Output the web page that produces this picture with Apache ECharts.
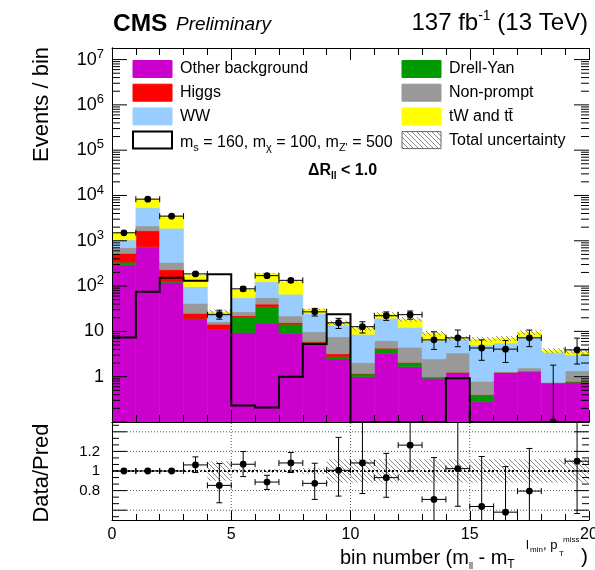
<!DOCTYPE html>
<html>
<head>
<meta charset="utf-8">
<script src="https://cdn.jsdelivr.net/npm/echarts@6/dist/echarts.min.js"></script>
<style>
html,body{margin:0;padding:0;background:#fff;}
#chart{width:595px;height:570px;}
</style>
</head>
<body>
<div id="chart"></div>
<script>
// ---------------- data ----------------
const binIndex   = [0,1,2,3,4,5,6,7,8,9,10,11,12,13,14,15,16,17,18,19];
const otherBkg   = [295, 719, 121, 18.8, 11.1, 9.4, 15.1, 9.1, 5.0, 2.46, 1.0, 3.3, 1.66, 0.92, 1.22, 0.28, 1.22, 1.29, 0.71, 0.74];
const drellYan   = [42, 20, 5, 0.5, 0.2, 11.1, 19.9, 5.3, 0.75, 0.34, 0.15, 0.9, 0.38, 0.05, 0.02, 0.11, 0.03, 0.02, 0.01, 0.03];
const higgs      = [190, 931, 104, 5.7, 3.1, 1.7, 5.0, 1.2, 0.25, 0.4, 0.02, 0.05, 0.02, 0.01, 0.01, 0.01, 0.01, 0.01, 0.01, 0.01];
const nonPrompt  = [180, 460, 105, 16.7, 2.0, 5.0, 15.5, 6.3, 3.8, 4.4, 0.87, 2.0, 2.42, 1.49, 2.08, 0.39, 0.02, 0.24, 0.02, 0.57];
const ww         = [333, 3250, 1555, 55.3, 9.5, 28.3, 69.5, 44.1, 15.2, 6.2, 6.56, 13.3, 7.84, 4.0, 3.5, 4.22, 4.25, 6.07, 2.68, 1.66];
const topTW      = [460, 2920, 1640, 79, 1.6, 26.5, 66, 58, 6, 1.7, 3.1, 4.3, 6.2, 2.65, 0.2, 1.7, 1.5, 1.8, 0.36, 0.56];
const signal     = [7.3, 75, 153, 131, 183, 0.23, 0.21, 1.0, 5.3, 23.8, 0, 0, 0, 0, 0.92, 0, 0, 0, 0, 0];
const dataObs    = [1500, 8300, 3500, 186, 23.4, 87, 170, 134, 27, 15.5, 12.7, 22.2, 23.4, 6.5, 7.2, 4.3, 4.06, 7.2, 0, 3.9];
const dataErrLo  = [39, 91, 59, 14, 4.8, 9.3, 13, 11.6, 5.2, 3.9, 3.5, 4.7, 4.8, 2.5, 2.6, 2.0, 2.0, 2.6, 0, 2.0];
const dataErrHi  = [39, 91, 59, 14, 5.9, 9.3, 13, 11.6, 5.2, 3.9, 3.6, 4.7, 4.8, 3.3, 3.5, 2.2, 2.2, 3.5, 1.8, 3.2];
const ratio      = [1.0, 1.0, 1.0, 1.062, 0.853, 1.069, 0.887, 1.082, 0.874, 1.007, 1.082, 0.932, 1.264, 0.71, 1.024, 0.638, 0.58, 0.795, 0, 1.10];
const ratioErrLo = [0.01, 0.01, 0.01, 0.078, 0.177, 0.126, 0.075, 0.098, 0.164, 0.263, 0.312, 0.2, 0.264, 0.4, 0.384, 0.4, 0.45, 0.45, 0, 0.534];
const ratioErrHi = [0.01, 0.01, 0.01, 0.082, 0.223, 0.13, 0.069, 0.107, 0.205, 0.336, 0.45, 0.248, 0.3, 0.427, 0.5, 0.51, 0.465, 0.435, 0.49, 0.5];
const relUnc     = [0.01, 0.01, 0.01, 0.015, 0.1, 0.02, 0.02, 0.02, 0.03, 0.12, 0.12, 0.12, 0.12, 0.12, 0.12, 0.12, 0.12, 0.12, 0.12, 0.12];
const xTickLabels = [0, 5, 10, 15, 20];
const ratioTickLabels = ['0.8', '1', '1.2'];
const processNames = ['Other background', 'Drell-Yan', 'Higgs', 'Non-prompt', 'WW', 'tW and tt\u0304'];

// ---------------- styling ----------------
const FONT = "'Liberation Sans', Arial, Helvetica, sans-serif";
const processColors = ['#cc00cc', '#009900', '#ff0000', '#999999', '#99ccff', '#ffff00'];
const Y_MIN = 0.1, Y_MAX = 1.8e7, R_MIN = 0.5, R_MAX = 1.5, X_MIN = 0, X_MAX = 20;

function hatchCanvas(color, s) {
  const c = document.createElement('canvas'); c.width = s; c.height = s;
  const g = c.getContext('2d'); g.strokeStyle = color; g.lineWidth = 1;
  g.beginPath();
  for (let k = -1; k <= 1; k++) { g.moveTo(0, k * s); g.lineTo(s, s + k * s); }
  g.stroke();
  return c;
}
const hatchFill = { image: hatchCanvas('#8a8a8a', 5), repeat: 'repeat' };

// ---------------- stacked histograms ----------------
const stackVals = [otherBkg, drellYan, higgs, nonPrompt, ww, topTW];
let running = binIndex.map(() => 0);
const stackSeries = stackVals.map((vals, k) => {
  const lo = running.slice();
  running = running.map((r, i) => r + vals[i]);
  const color = processColors[k];
  return {
    type: 'custom', name: processNames[k], xAxisIndex: 0, yAxisIndex: 0, clip: true, z: 2,
    encode: { x: 0, y: 2 },
    data: binIndex.map((b, i) => [b, k === 0 ? Y_MIN : lo[i], running[i]]),
    renderItem: (p, api) => {
      const a = api.coord([api.value(0), api.value(2)]);
      const b = api.coord([api.value(0) + 1, Math.max(api.value(1), Y_MIN)]);
      return { type: 'rect', shape: { x: a[0], y: a[1], width: b[0] - a[0], height: b[1] - a[1] },
               style: { fill: color, stroke: color, lineWidth: 0.6 } };
    }
  };
});
const totalPred = running;

function rectHatchRender(yMin) {
  return (p, api) => {
    const a = api.coord([api.value(0), api.value(2)]);
    const b = api.coord([api.value(0) + 1, Math.max(api.value(1), yMin)]);
    return { type: 'rect', shape: { x: a[0], y: a[1], width: b[0] - a[0], height: b[1] - a[1] },
             style: { fill: hatchFill } };
  };
}

function pointsRender(yMin) {
  return (p, api) => {
    const x = api.value(0), v0 = api.value(1), lo = api.value(2), hi = api.value(3);
    const v = Math.max(v0, yMin);
    const c = api.coord([x, v]);
    const l = api.coord([x - 0.5, v]), r = api.coord([x + 0.5, v]);
    const top = api.coord([x, v0 + hi]);
    const bot = api.coord([x, Math.max(v0 - lo, yMin)]);
    const st = { stroke: '#000', lineWidth: 1 };
    const ch = [
      { type: 'line', shape: { x1: l[0], y1: l[1], x2: r[0], y2: r[1] }, style: st },
      { type: 'line', shape: { x1: l[0], y1: l[1] - 3, x2: l[0], y2: l[1] + 3 }, style: st },
      { type: 'line', shape: { x1: r[0], y1: r[1] - 3, x2: r[0], y2: r[1] + 3 }, style: st },
      { type: 'line', shape: { x1: c[0], y1: top[1], x2: c[0], y2: bot[1] }, style: st },
      { type: 'line', shape: { x1: c[0] - 3, y1: top[1], x2: c[0] + 3, y2: top[1] }, style: st }
    ];
    if (lo > 0) ch.push({ type: 'line', shape: { x1: c[0] - 3, y1: bot[1], x2: c[0] + 3, y2: bot[1] }, style: st });
    ch.push({ type: 'circle', shape: { cx: c[0], cy: c[1], r: 3.4 }, style: { fill: '#000' } });
    return { type: 'group', children: ch };
  };
}

// tick values for the log axis (ROOT style 1..9 x 10^n)
const logTicks = [];
for (let n = -1; n <= 7; n++) for (let k = 1; k <= 9; k++) {
  const v = k * Math.pow(10, n);
  if (v >= Y_MIN && v <= Y_MAX) logTicks.push([0, v, k === 1 ? 1 : 0]);
}
const ratioTicks = [];
for (let j = -1; j <= 13; j++) ratioTicks.push([0, 0.6 + j * 0.2 / 3, j % 3 === 0 ? 1 : 0]);

function yTickRender(majorLen, minorLen) {
  return (p, api) => {
    const yv = api.value(1), major = api.value(2);
    const L = api.coord([X_MIN, yv]), R = api.coord([X_MAX, yv]);
    const len = major ? majorLen : minorLen;
    const st = { stroke: '#000', lineWidth: 1 };
    return { type: 'group', children: [
      { type: 'line', shape: { x1: L[0], y1: L[1], x2: L[0] + len, y2: L[1] }, style: st },
      { type: 'line', shape: { x1: R[0] - len, y1: R[1], x2: R[0], y2: R[1] }, style: st }
    ]};
  };
}

// guide lines in ratio panel
const ratioGuideY = [0.6, 0.8, 1.0, 1.2, 1.4];
const ratioGuideX = [5, 10, 15];
const guideData = [];
ratioGuideY.forEach(y => guideData.push([X_MIN, y, X_MAX, y, y === 1.0 ? 1 : 0]));
ratioGuideX.forEach(x => guideData.push([x, R_MIN, x, R_MAX, 0]));

const chart = echarts.init(document.getElementById('chart'), null, { renderer: 'canvas' });

const axisLineStyle = { show: true, lineStyle: { color: '#000', width: 1 } };

const option = {
  animation: false,
  backgroundColor: '#fff',
  textStyle: { fontFamily: FONT },
  grid: [
    { left: 112, top: 48, width: 477, height: 374, outerBoundsMode: 'none', containLabel: false },
    { left: 112, top: 422, width: 477, height: 98, outerBoundsMode: 'none', containLabel: false }
  ],
  xAxis: [
    { gridIndex: 0, type: 'value', min: X_MIN, max: X_MAX, interval: 5, position: 'bottom', z: 10,
      axisLine: axisLineStyle, axisLabel: { show: false }, splitLine: { show: false },
      axisTick: { show: true, inside: true, length: 12, lineStyle: { color: '#000' } },
      minorTick: { show: true, splitNumber: 5, length: 7, lineStyle: { color: '#000' } } },
    { gridIndex: 0, type: 'value', min: X_MIN, max: X_MAX, interval: 5, position: 'top', z: 10,
      axisLine: axisLineStyle, axisLabel: { show: false }, splitLine: { show: false },
      axisTick: { show: true, inside: true, length: 12, lineStyle: { color: '#000' } },
      minorTick: { show: true, splitNumber: 5, length: 7, lineStyle: { color: '#000' } } },
    { gridIndex: 1, type: 'value', min: X_MIN, max: X_MAX, interval: 5, position: 'bottom', z: 10,
      axisLine: axisLineStyle, splitLine: { show: false },
      axisLabel: { show: true, fontSize: 16, color: '#000', fontFamily: FONT, margin: 7, showMinLabel: true, showMaxLabel: true,
        formatter: v => (xTickLabels.indexOf(Math.round(v)) >= 0 ? String(Math.round(v)) : '') },
      axisTick: { show: true, inside: true, length: 9, lineStyle: { color: '#000' } },
      minorTick: { show: true, splitNumber: 5, length: 6, lineStyle: { color: '#000' } } },
    { gridIndex: 1, type: 'value', min: X_MIN, max: X_MAX, interval: 5, position: 'top', z: 10,
      axisLine: axisLineStyle, axisLabel: { show: false }, splitLine: { show: false }, axisTick: { show: false } }
  ],
  yAxis: [
    { gridIndex: 0, type: 'log', logBase: 10, min: Y_MIN, max: Y_MAX, position: 'left', z: 10,
      axisLine: axisLineStyle, axisTick: { show: false }, splitLine: { show: false },
      axisLabel: { show: true, margin: 8, fontSize: 18, color: '#000', fontFamily: FONT,
        formatter: v => {
          const e = Math.log10(v), n = Math.round(e);
          if (Math.abs(e - n) > 1e-6 || n < 0) return '';
          if (n === 0) return '1';
          if (n === 1) return '10';
          return '{n|10}{sup|' + n + '}';
        },
        rich: { n: { fontSize: 18, fontFamily: FONT, color: '#000', lineHeight: 24 },
                sup: { fontSize: 13, fontFamily: FONT, color: '#000', lineHeight: 12, verticalAlign: 'top' } } } },
    { gridIndex: 0, type: 'log', logBase: 10, min: Y_MIN, max: Y_MAX, position: 'right', z: 10,
      axisLine: axisLineStyle, axisTick: { show: false }, splitLine: { show: false }, axisLabel: { show: false } },
    { gridIndex: 1, type: 'value', min: R_MIN, max: R_MAX, interval: 0.1, position: 'left', z: 10,
      axisLine: axisLineStyle, axisTick: { show: false }, splitLine: { show: false },
      axisLabel: { show: true, margin: 12, fontSize: 15, color: '#000', fontFamily: FONT,
        formatter: v => { const s = String(Math.round(v * 10) / 10); return ratioTickLabels.indexOf(s) >= 0 ? s : ''; } } },
    { gridIndex: 1, type: 'value', min: R_MIN, max: R_MAX, interval: 0.1, position: 'right', z: 10,
      axisLine: axisLineStyle, axisTick: { show: false }, splitLine: { show: false }, axisLabel: { show: false } }
  ],
  series: [
    ...stackSeries,
    { type: 'custom', name: 'Total uncertainty', xAxisIndex: 0, yAxisIndex: 0, clip: true, z: 3,
      encode: { x: 0, y: 2 },
      data: binIndex.map((b, i) => [b, totalPred[i] * (1 - relUnc[i]), totalPred[i] * (1 + relUnc[i])]),
      renderItem: rectHatchRender(Y_MIN) },
    { type: 'custom', name: 'signal', xAxisIndex: 0, yAxisIndex: 0, clip: true, z: 4,
      encode: { x: 0, y: 1 },
      data: [[0, 1]],
      renderItem: (p, api) => {
        const pts = [api.coord([X_MIN, Y_MIN])];
        signal.forEach((v, i) => {
          const y = Math.max(v, Y_MIN);
          pts.push(api.coord([binIndex[i], y]));
          pts.push(api.coord([binIndex[i] + 1, y]));
        });
        pts.push(api.coord([X_MAX, Y_MIN]));
        return { type: 'polyline', shape: { points: pts }, style: { stroke: '#000', lineWidth: 2, fill: null } };
      } },
    { type: 'custom', name: 'Data', xAxisIndex: 0, yAxisIndex: 0, clip: true, z: 6,
      encode: { x: 0, y: 1 },
      data: binIndex.map((b, i) => [b + 0.5, dataObs[i], dataErrLo[i], dataErrHi[i]]),
      renderItem: pointsRender(Y_MIN) },
    { type: 'custom', name: 'yticks-main', xAxisIndex: 0, yAxisIndex: 0, clip: false, z: 12,
      encode: { x: 0, y: 1 }, data: logTicks, renderItem: yTickRender(15, 8) },
    // ratio panel
    { type: 'custom', name: 'ratio-guides', xAxisIndex: 2, yAxisIndex: 2, clip: true, z: 1,
      encode: { x: [0, 2], y: [1, 3] }, data: guideData,
      renderItem: (p, api) => {
        const a = api.coord([api.value(0), api.value(1)]), b = api.coord([api.value(2), api.value(3)]);
        const thick = api.value(4) === 1;
        return { type: 'line', shape: { x1: a[0], y1: a[1], x2: b[0], y2: b[1] },
                 style: { stroke: thick ? '#000' : '#555', lineWidth: thick ? 2 : 1, lineDash: thick ? [2, 2] : [1, 2] } };
      } },
    { type: 'custom', name: 'ratio-unc', xAxisIndex: 2, yAxisIndex: 2, clip: true, z: 2,
      encode: { x: 0, y: 2 },
      data: binIndex.map((b, i) => [b, 1 - relUnc[i], 1 + relUnc[i]]),
      renderItem: rectHatchRender(R_MIN) },
    { type: 'custom', name: 'ratio', xAxisIndex: 2, yAxisIndex: 2, clip: true, z: 6,
      encode: { x: 0, y: 1 },
      data: binIndex.map((b, i) => [b + 0.5, ratio[i], ratioErrLo[i], ratioErrHi[i]]),
      renderItem: pointsRender(-Infinity) },
    { type: 'custom', name: 'yticks-ratio', xAxisIndex: 2, yAxisIndex: 2, clip: false, z: 12,
      encode: { x: 0, y: 1 }, data: ratioTicks, renderItem: yTickRender(15, 7) }
  ],
  graphic: []
};

// ---------------- texts and legend ----------------
const G = [];
function text(x, y, t, font, extra) {
  G.push(Object.assign({ type: 'text', x: x, y: y, z: 100, silent: true,
    style: Object.assign({ text: t, font: font, fill: '#000', textAlign: 'left', textVerticalAlign: 'middle' }, (extra && extra.style) || {}) },
    (extra && extra.el) || {}));
}
const f = (size, w, s) => (s || '') + ' ' + (w || 'normal') + ' ' + size + 'px ' + FONT;

text(113, 24, 'CMS', f(24.5, 'bold'));
text(176, 25, 'Preliminary', f(19, 'normal', 'italic'));
text(588, 23, '{n|137 fb}{sup|-1}{n| (13 TeV)}', f(24), { style: { textAlign: 'right',
  rich: { n: { fontSize: 24, fontFamily: FONT, color: '#000', lineHeight: 28 },
          sup: { fontSize: 14, fontFamily: FONT, color: '#000', lineHeight: 18, verticalAlign: 'top' } } } });
text(42, 47, 'Events / bin', f(22), { style: { textAlign: 'right' }, el: { rotation: Math.PI / 2 } });
text(42, 473, 'Data/Pred', f(22), { style: { textAlign: 'center' }, el: { rotation: Math.PI / 2 } });

// x axis title
text(340, 558, '{n|bin number (m}{s1|ll}{n| - m}{s2|T}', f(20), { style: {
  rich: { n: { fontSize: 20, fontFamily: FONT, color: '#000', lineHeight: 26 },
          s1: { fontSize: 9, fontFamily: FONT, color: '#000', lineHeight: 14, verticalAlign: 'bottom' },
          s2: { fontSize: 12, fontFamily: FONT, color: '#000', lineHeight: 12, verticalAlign: 'bottom' } } } });
text(526, 545, 'l', f(13));
text(530, 550, 'min', f(8));
text(543, 545, ', p', f(13));
text(559, 554, 'T', f(8));
text(563, 540, 'miss', f(8));
text(581, 557, ')', f(21));

// region label
text(308, 171, '{b|\u0394R}{s|ll}{b| < 1.0}', f(16, 'bold'), { style: {
  rich: { b: { fontSize: 16, fontWeight: 'bold', fontFamily: FONT, color: '#000', lineHeight: 20 },
          s: { fontSize: 10, fontWeight: 'bold', fontFamily: FONT, color: '#000', lineHeight: 12, verticalAlign: 'bottom' } } } });

// legend
const rowY = [69, 92.7, 116.4, 140.1];
const subRich = { n: { fontSize: 16, fontFamily: FONT, color: '#000', lineHeight: 22 },
                  s: { fontSize: 11, fontFamily: FONT, color: '#000', lineHeight: 12, verticalAlign: 'bottom' } };
const legendItems = [
  { col: 0, row: 0, label: processNames[0], fill: processColors[0] },
  { col: 0, row: 1, label: processNames[2], fill: processColors[2] },
  { col: 0, row: 2, label: processNames[4], fill: processColors[4] },
  { col: 0, row: 3, label: '{n|m}{s|s}{n| = 160, m}{s|\u03c7}{n| = 100, m}{s|Z\'}{n| = 500}', fill: '#fff', stroke: '#000', lw: 2, rich: true },
  { col: 1, row: 0, label: processNames[1], fill: processColors[1] },
  { col: 1, row: 1, label: processNames[3], fill: processColors[3] },
  { col: 1, row: 2, label: processNames[5], fill: processColors[5] },
  { col: 1, row: 3, label: 'Total uncertainty', fill: hatchFill, stroke: '#666', lw: 1 }
];
const colBoxX = [133, 402], colTextX = [180, 449];
legendItems.forEach(it => {
  const y = rowY[it.row];
  G.push({ type: 'rect', z: 100, silent: true,
    shape: { x: colBoxX[it.col], y: y - 8.5, width: 39, height: 17 },
    style: { fill: it.fill, stroke: it.stroke || it.fill, lineWidth: it.lw || 1 } });
  if (it.rich) text(colTextX[it.col], y + 2, it.label, f(16), { style: { rich: subRich } });
  else text(colTextX[it.col], y, it.label, f(16));
});

option.graphic = G;
chart.setOption(option);
</script>
</body>
</html>
